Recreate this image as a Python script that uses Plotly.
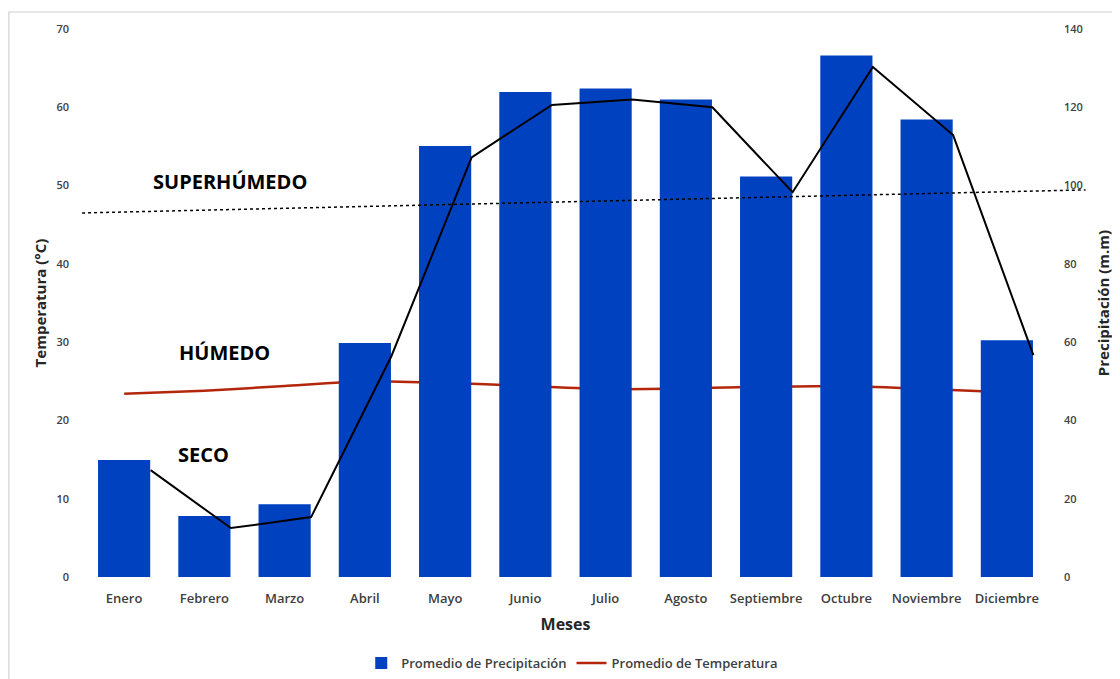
import plotly.graph_objects as go

meses = ["Enero", "Febrero", "Marzo", "Abril", "Mayo", "Junio", "Julio",
         "Agosto", "Septiembre", "Octubre", "Noviembre", "Diciembre"]
precipitacion = [29.9, 15.6, 18.6, 59.8, 110.1, 123.9, 124.8, 122.0, 102.3, 133.2, 116.9, 60.5]
precip_linea = [27.3, 12.5, 15.3, 56.4, 107.2, 120.6, 122.0, 120.0, 98.3, 130.3, 112.9, 56.7]
temperatura = [23.4, 23.8, 24.4, 25.0, 24.8, 24.4, 24.0, 24.1, 24.3, 24.4, 24.0, 23.6]
superhumedo_trend = [93.0, 98.9]  # precipitación (eje derecho), extremos de la línea punteada
etiquetas = ["SUPERHÚMEDO", "HÚMEDO", "SECO"]

FONT = "Open Sans"
tick_font = dict(family=FONT, size=11, color="#404040", weight=600)

fig = go.Figure()
fig.add_trace(go.Bar(
    x=meses, y=precipitacion, name="Promedio de Precipitación",
    marker=dict(color="#0041C0", line=dict(width=0)),
    xaxis="x", yaxis="y2"))
fig.add_trace(go.Scatter(
    x=meses, y=temperatura, name="Promedio de Temperatura", mode="lines",
    line=dict(color="#B3260C", width=2.5, shape="spline", smoothing=0.6),
    xaxis="x", yaxis="y"))
fig.add_trace(go.Scatter(
    x=meses, y=precip_linea, mode="lines", showlegend=False,
    line=dict(color="black", width=2),
    xaxis="x3", yaxis="y2"))

shift = 0.33
fig.update_layout(
    width=1120, height=679,
    paper_bgcolor="white", plot_bgcolor="white",
    margin=dict(l=76, r=81, t=21, b=110, autoexpand=False),
    bargap=0.35,
    font=dict(family=FONT, color="#404040"),
    xaxis=dict(type="category", range=[-0.5, 11.5], showgrid=False, showline=False,
               zeroline=False, ticks="", ticklabelstandoff=12,
               tickfont=dict(family=FONT, size=13, color="#404040", weight=600),
               title=dict(text="Meses", font=dict(family=FONT, size=16, color="#262626", weight="bold"),
                          standoff=12)),
    xaxis3=dict(type="category", overlaying="x", range=[-0.5 - shift, 11.5 - shift],
                visible=False, showgrid=False),
    yaxis=dict(range=[0, 70], dtick=10, showgrid=False, zeroline=False, showline=False,
               ticks="", tickfont=tick_font, ticklabelstandoff=14,
               title=dict(text="Temperatura (°C)", font=dict(family=FONT, size=15, color="#262626", weight="bold"),
                          standoff=6)),
    yaxis2=dict(range=[0, 140], dtick=20, overlaying="y", side="right", showgrid=False,
                zeroline=False, showline=False, ticks="", tickfont=tick_font, ticklabelstandoff=16,
                title=dict(text="Precipitación (m.m)", font=dict(family=FONT, size=15, color="#262626", weight="bold"),
                           standoff=16)),
    legend=dict(orientation="h", x=0.507, y=-0.157, xanchor="center", yanchor="middle",
                font=dict(family=FONT, size=13, color="#404040", weight=600),
                itemwidth=30, tracegroupgap=0, bgcolor="rgba(0,0,0,0)"),
    showlegend=True,
)

fig.add_shape(type="line", xref="paper", yref="y2", x0=-0.002, x1=1.04,
              y0=superhumedo_trend[0], y1=superhumedo_trend[1],
              line=dict(color="black", width=1.5, dash="dot"))

fig.add_shape(type="rect", xref="paper", yref="paper", x0=-0.078, x1=1.2, y0=-0.3, y1=1.031,
              line=dict(color="#D0D0D0", width=1.2), fillcolor="rgba(0,0,0,0)", layer="below")

pos = [(0.152, 0.721), (0.146, 0.409), (0.124, 0.223)]
for txt, (px, py) in zip(etiquetas, pos):
    fig.add_annotation(text=txt, xref="paper", yref="paper", x=px, y=py, showarrow=False,
                       xanchor="center", yanchor="middle",
                       font=dict(family=FONT, size=20, color="black", weight="bold"))

fig.write_html("out.html")
